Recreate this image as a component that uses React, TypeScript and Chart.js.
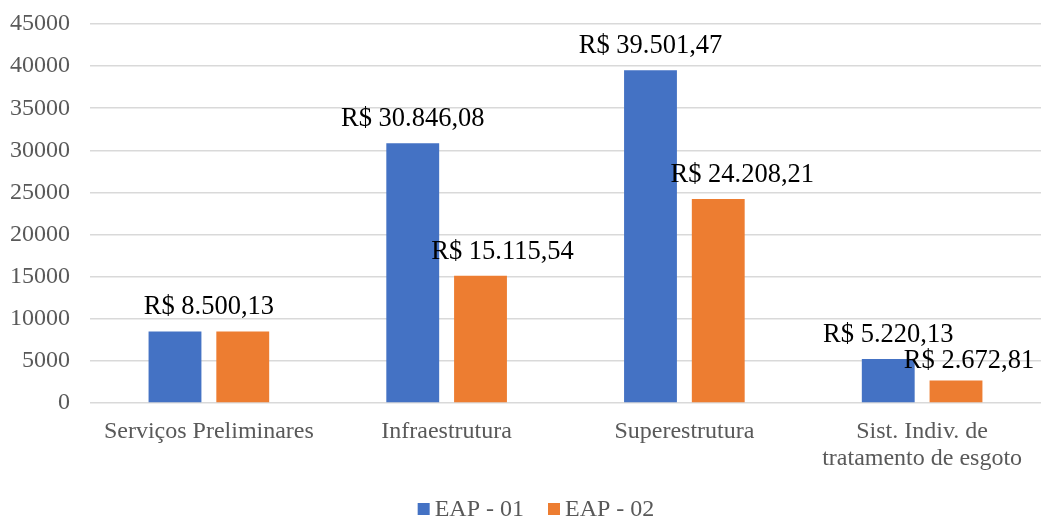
import React, { useEffect, useRef } from "react";
import { Chart, registerables } from "chart.js";

Chart.register(...registerables);

const categories: (string | string[])[] = [
  "Serviços Preliminares",
  "Infraestrutura",
  "Superestrutura",
  ["Sist. Indiv. de", "tratamento de esgoto"],
];
const seriesNames = ["EAP - 01", "EAP - 02"];
const eap01 = [8500.13, 30846.08, 39501.47, 5220.13];
const eap02 = [8500.13, 15115.54, 24208.21, 2672.81];
const eap01Labels = ["R$ 8.500,13", "R$ 30.846,08", "R$ 39.501,47", "R$ 5.220,13"];
const eap02Labels = ["", "R$ 15.115,54", "R$ 24.208,21", "R$ 2.672,81"];
const yMax = 45000;
const yStep = 5000;

const colors = ["#4472C4", "#ED7D31"];
const FONT = '"Liberation Serif", "Times New Roman", serif';

// label placement tweaks (pixels) — dx, dy per dataset/category
const labelDx = [
  [0, 0, 0, 0],
  [0, 22, 24, 13],
];
const labelDy = [
  [0, 0, 0, 0],
  [0, 0, 0, 5],
];
const mergedLabelCategories = [0];

const valueLabelPlugin = {
  id: "valueLabels",
  afterDatasetsDraw(chart: any) {
    const ctx = chart.ctx;
    const allLabels = [eap01Labels, eap02Labels];
    ctx.save();
    ctx.font = `26.5px ${FONT}`;
    ctx.fillStyle = "#000000";
    ctx.textAlign = "center";
    ctx.textBaseline = "alphabetic";
    chart.data.datasets.forEach((_ds: any, di: number) => {
      const meta = chart.getDatasetMeta(di);
      meta.data.forEach((bar: any, i: number) => {
        const text = allLabels[di][i];
        if (!text) return;
        let x = bar.x;
        if (mergedLabelCategories.includes(i)) {
          const other = chart.getDatasetMeta(1 - di).data[i];
          x = (bar.x + other.x) / 2;
        }
        x += labelDx[di][i];
        const y = bar.y - 17 + labelDy[di][i];
        ctx.fillText(text, x, y);
      });
    });
    ctx.restore();
  },
};

const legendPlugin = {
  id: "customLegend",
  afterDraw(chart: any) {
    const ctx = chart.ctx;
    ctx.save();
    ctx.font = `24px ${FONT}`;
    const box = 12;
    const gap = 5;
    const spacing = 24;
    const items = chart.data.datasets.map((ds: any) => ({
      label: ds.label as string,
      color: ds.backgroundColor as string,
      w: box + gap + ctx.measureText(ds.label).width,
    }));
    const total = items.reduce((s: number, it: any) => s + it.w, 0) + spacing * (items.length - 1);
    const centerX = 536;
    let x = centerX - total / 2;
    const baseline = 516;
    items.forEach((it: any) => {
      ctx.fillStyle = it.color;
      ctx.fillRect(x, baseline - 13, box, box);
      ctx.fillStyle = "#595959";
      ctx.textAlign = "left";
      ctx.textBaseline = "alphabetic";
      ctx.fillText(it.label, x + box + gap, baseline);
      x += it.w + spacing;
    });
    ctx.restore();
  },
};

export default function App() {
  const ref = useRef<HTMLCanvasElement | null>(null);
  useEffect(() => {
    if (!ref.current) return;
    const chart = new Chart(ref.current, {
      type: "bar",
      data: {
        labels: categories as any,
        datasets: [
          { label: seriesNames[0], data: eap01, backgroundColor: colors[0] },
          { label: seriesNames[1], data: eap02, backgroundColor: colors[1] },
        ],
      },
      options: {
        responsive: false,
        animation: false,
        layout: { padding: { top: 24, right: 0, bottom: 34, left: 0 } },
        datasets: {
          bar: { categoryPercentage: 0.57, barPercentage: 0.78 },
        },
        plugins: {
          legend: { display: false },
          tooltip: { enabled: false },
        },
        scales: {
          x: {
            grid: { display: false, drawTicks: false },
            border: { display: false },
            ticks: {
              color: "#595959",
              font: { family: FONT, size: 24, lineHeight: 1.12 },
              padding: 15,
              maxRotation: 0,
              autoSkip: false,
            },
            afterFit(scale: any) {
              scale.height = 80;
              scale.paddingLeft = 0;
              scale.paddingRight = 0;
            },
          },
          y: {
            min: 0,
            max: yMax,
            grid: { color: "#D9D9D9", lineWidth: 1.5, drawTicks: false },
            border: { display: false },
            ticks: {
              stepSize: yStep,
              color: "#595959",
              font: { family: FONT, size: 24 },
              padding: 20,
              callback: (v: any) => String(v),
            },
            afterFit(scale: any) {
              scale.width = 90;
              scale.paddingTop = 0;
              scale.paddingBottom = 0;
            },
          },
        },
      },
      plugins: [valueLabelPlugin, legendPlugin],
    });
    return () => chart.destroy();
  }, []);
  return (
    <div style={{ position: "absolute", left: 0, top: 0, width: 1041, height: 517 }}>
      <canvas ref={ref} width={1041} height={517} />
    </div>
  );
}
